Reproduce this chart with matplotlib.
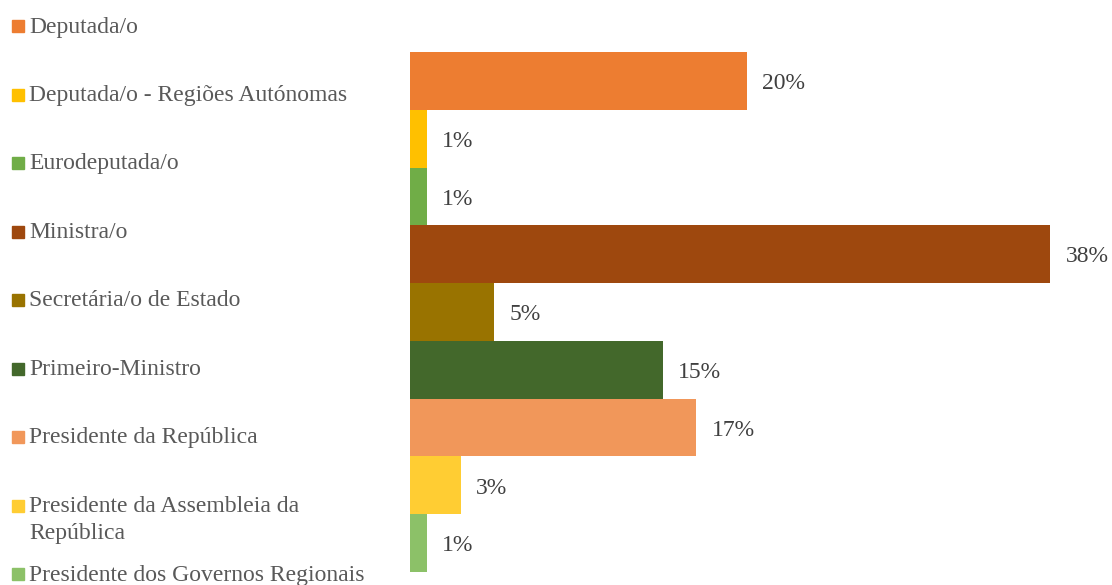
import matplotlib.pyplot as plt

# data
categories = ['Deputada/o', 'Deputada/o - Regiões Autónomas', 'Eurodeputada/o',
              'Ministra/o', 'Secretária/o de Estado', 'Primeiro-Ministro',
              'Presidente da República', 'Presidente da Assembleia da\nRepública',
              'Presidente dos Governos Regionais']
values = [20, 1, 1, 38, 5, 15, 17, 3, 1]
colors = ['#ED7D31', '#FFC000', '#70AD47', '#9E480E', '#997300', '#43682B',
          '#F1975A', '#FFCD33', '#8CC168']

plt.rcParams['font.family'] = ['Liberation Serif', 'DejaVu Serif']

W, H = 1112, 585
fig = plt.figure(figsize=(W / 100, H / 100), dpi=100)

# bar area in pixels: x from 410, y from 52 to 572
left, right, top, bottom = 410, 1112, 52, 572
ax = fig.add_axes([left / W, 1 - bottom / H, (right - left) / W, (bottom - top) / H])
y = list(range(len(values)))
bars = ax.barh(y, values, height=1.0, color=colors)
ax.set_xlim(0, (right - left) / 16.85)
ax.set_ylim(len(values) - 0.5, -0.5)
ax.axis('off')
for b, v in zip(bars, values):
    ax.annotate(f'{v}%', (b.get_width(), b.get_y() + b.get_height() / 2),
                xytext=(11, -2), textcoords='offset points', va='center', ha='left',
                fontsize=17, color='#404040')

# legend drawn by hand, entries top-aligned like the original
lax = fig.add_axes([0, 0, 1, 1])
lax.set_xlim(0, W)
lax.set_ylim(H, 0)
lax.axis('off')
step = 68.5
for i, (lab, c) in enumerate(zip(categories, colors)):
    yc = 26 + i * step
    lax.add_patch(plt.Rectangle((12, yc - 6), 12, 12, color=c))
    for k, line in enumerate(lab.split('\n')):
        lax.text(29, yc + 1 + k * 27, line, va='center', ha='left', fontsize=17,
                 color='#595959')

fig.savefig('out.png', dpi=100)
